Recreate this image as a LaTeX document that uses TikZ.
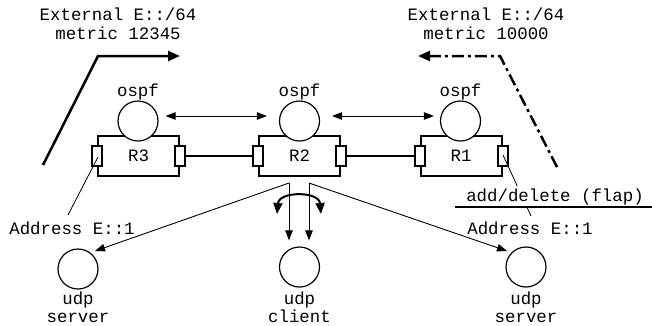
\documentclass[tikz,border=0pt]{standalone}
\usepackage{fontspec}
\setmainfont{Liberation Mono}
\usetikzlibrary{arrows.meta,calc}
\begin{document}
\begin{tikzpicture}[x=1pt,y=-1pt,
  every node/.style={font=\fontsize{17.4}{18.5}\selectfont},
  lbl/.style={align=center,inner sep=0pt},
  router/.style={draw,line width=2pt,minimum width=81pt,minimum height=40pt,inner sep=0pt},
  port/.style={draw,fill=white,line width=2pt,minimum width=10pt,minimum height=20pt,inner sep=0pt},
  proc/.style={draw,fill=white,circle,line width=1.2pt,minimum size=40pt,inner sep=0pt},
  link/.style={line width=2pt},
  note/.style={line width=0.8pt},
  tarrow/.style={line width=0.9pt,-{Triangle[length=10pt,width=7.5pt]}},
  tarrows/.style={line width=0.9pt,{Triangle[length=10pt,width=7.5pt]}-{Triangle[length=10pt,width=7.5pt]}},
  bigtip/.style={-{Triangle[length=12pt,width=10pt]}},
]
\useasboundingbox (0,0) rectangle (652,325);

% external route labels
\node[lbl] (extL) at (118,24) {External E::/64\\metric 12345};
\node[lbl] (extR) at (486,24) {External E::/64\\metric 10000};

% external route paths
\coordinate (pL0) at (43,165); \coordinate (pL1) at (98,56); \coordinate (pL2) at (180,56);
\draw[line width=2.5pt,bigtip] (pL0) -- (pL1) -- (pL2);
\coordinate (pR0) at (557,167); \coordinate (pR1) at (500,56); \coordinate (pR2) at (418,56);
\draw[line width=2.5pt,dash pattern=on 12pt off 4pt on 3pt off 4pt,bigtip] (pR0) -- (pR1) -- (pR2);

% routers
\node[router] (R3) at (138.5,156) {R3};
\node[router] (R2) at (299.5,156) {R2};
\node[router] (R1) at (461,156) {R1};

% ospf processes
\node[proc] (O3) at (138,121) {};
\node[proc] (O2) at (299.5,121) {};
\node[proc] (O1) at (460.5,121) {};
\node[lbl] (O3t) at (138,92) {ospf};
\node[lbl] (O2t) at (299.5,92) {ospf};
\node[lbl] (O1t) at (460.5,92) {ospf};

% ports
\node[port] (R3a) at (R3.west) {}; \node[port] (R3b) at (R3.east) {};
\node[port] (R2a) at (R2.west) {}; \node[port] (R2b) at (R2.east) {};
\node[port] (R1a) at (R1.west) {}; \node[port] (R1b) at (R1.east) {};

% links
\draw[link] (R3b) -- (R2a);
\draw[link] (R2b) -- (R1a);

% ospf adjacency arrows
\draw[tarrows] ($(O3.east)+(7,-5)$) -- ($(O2.west)+(-12,-5)$);
\draw[tarrows] ($(O2.east)+(12,-5)$) -- ($(O1.west)+(-6,-5)$);

% udp processes
\node[proc] (U1) at (78,269) {};
\node[proc] (U2) at (299.5,267) {};
\node[proc] (U3) at (526,267) {};
\node[lbl] (U1t) at (78,307.5) {udp\\server};
\node[lbl] (U2t) at (299.5,307.5) {udp\\client};
\node[lbl] (U3t) at (526,307.5) {udp\\server};

% address labels and notes
\node[lbl] (adL) at (72,228) {Address E::1};
\node[lbl] (adR) at (530,228) {Address E::1};
\coordinate (aL0) at ($(R3a.center)+(1,1)$);
\coordinate (aL1) at (68,215);
\draw[note] (aL0) -- (aL1);
\coordinate (aR0) at ($(R1b.center)+(0.5,-1)$);
\coordinate (aR1) at (531,216);
\draw[note] (aR0) -- (aR1);
\node[lbl,fill=white,inner ysep=3pt] (flap) at (555,197) {add/delete (flap)};
\coordinate (ul0) at (455,207); \coordinate (ul1) at (652,207);
\draw[link] (ul0) -- (ul1);

% udp traffic from R2
\coordinate (s1) at ($(R2.south)+(-10.5,6)$);
\coordinate (s2) at ($(R2.south)+(9.5,6)$);
\coordinate (tU2) at ($(U2.north)+(0,-6)$);
\coordinate (tU1) at ($(U1)+(17,-18)$);
\coordinate (tU3) at ($(U3)+(-19,-16)$);
\draw[tarrow] (s1) -- (tU1);
\draw[tarrow] (s2) -- (tU3);
\draw[tarrow] (s1) -- (s1 |- tU2);
\draw[tarrow] (s2) -- (s2 |- tU2);

% flap curved arrow
\coordinate (c1) at ($(R2.south)+(-22.5,37)$);
\coordinate (c2) at ($(R2.south)+(21.5,37)$);
\draw[line width=2pt,{Triangle[length=11pt,width=9pt]}-{Triangle[length=11pt,width=9pt]}]
  (c1) .. controls ($(c1)+(2,-23)$) and ($(c2)+(-2,-23)$) .. (c2);
\end{tikzpicture}
\end{document}
